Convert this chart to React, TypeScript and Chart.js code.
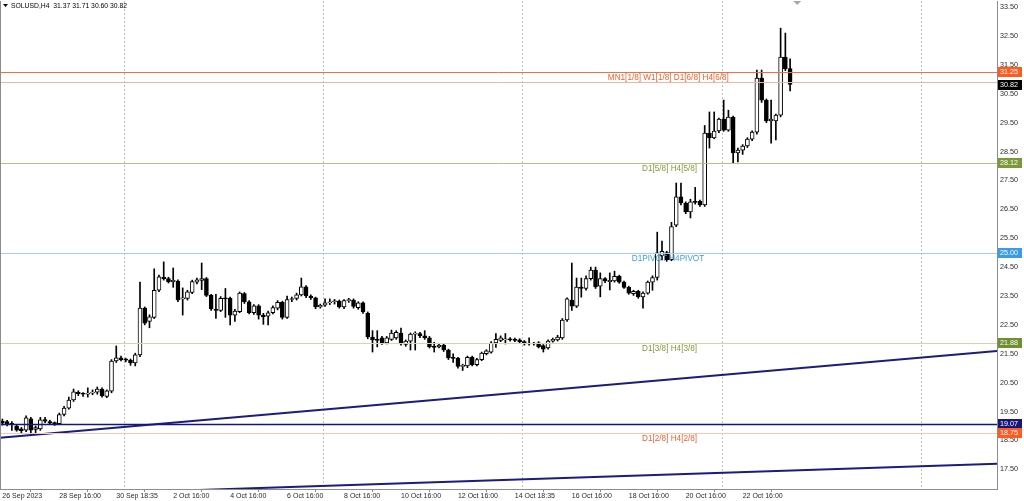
import React, { useEffect, useRef } from 'react';
import { Chart, registerables } from 'chart.js';

Chart.register(...registerables);

// ---------- data ----------
const symbol = 'SOLUSD,H4';

const opens = [
  19.17, 19.15, 19.08, 19.00, 18.90, 18.86, 19.25, 18.88, 18.90, 19.22,
  19.15, 19.10, 19.08, 19.40, 19.62, 19.90, 20.17, 20.12, 20.10, 20.14,
  20.17, 20.28, 20.02, 20.21, 21.25, 21.36, 21.30, 21.28, 21.18, 21.46,
  23.08, 22.62, 22.76, 23.70, 24.15, 24.10, 24.00, 24.02, 23.40, 23.42,
  23.62, 23.98, 24.04, 24.10, 23.52, 23.04, 23.00, 23.42, 23.42, 22.84,
  22.96, 23.58, 23.30, 22.92, 23.16, 22.84, 22.80, 22.92, 23.08, 23.28,
  22.76, 23.38, 23.42, 23.54, 23.82, 23.50, 23.44, 23.12, 23.18, 23.26,
  23.30, 23.32, 23.12, 23.34, 23.36, 23.10, 23.26, 22.90, 22.08, 22.00,
  22.05, 21.88, 22.00, 22.05, 22.22, 21.82, 21.94, 22.18, 22.20, 22.12,
  22.05, 21.75, 21.74, 21.80, 21.63, 21.36, 21.34, 21.06, 21.08, 21.38,
  21.12, 21.30, 21.50, 21.56, 21.88, 21.96, 21.98, 22.00, 22.00, 21.98,
  21.92, 21.84, 21.86, 21.88, 21.78, 21.70, 21.94, 21.98, 22.05, 22.67,
  23.36, 23.15, 23.81, 23.76, 24.10, 24.40, 23.84, 24.10, 24.00, 24.02,
  24.18, 23.98, 23.80, 23.58, 23.66, 23.47, 23.60, 23.98, 24.14, 24.90,
  25.00, 24.76, 25.95, 26.93, 26.72, 26.41, 26.76, 26.78, 26.65, 29.14,
  28.97, 29.21, 29.62, 29.24, 29.69, 28.45, 28.55, 28.69, 28.93, 29.17,
  31.04, 30.28, 29.56, 29.56, 29.76, 31.77, 31.37,
];
const highs = [
  19.24, 19.20, 19.15, 19.05, 18.95, 19.35, 19.30, 19.00, 19.30, 19.30,
  19.20, 19.14, 19.45, 19.68, 20.00, 20.28, 20.22, 20.16, 20.32, 20.25,
  20.35, 20.32, 20.25, 21.30, 21.77, 21.42, 21.35, 21.32, 21.52, 23.98,
  23.12, 22.85, 24.44, 24.22, 24.68, 24.15, 24.47, 24.06, 23.78, 23.70,
  24.05, 24.12, 24.64, 24.14, 23.56, 23.56, 23.48, 23.76, 23.46, 23.04,
  23.64, 23.62, 23.34, 23.20, 23.20, 22.90, 22.98, 23.16, 23.34, 23.32,
  23.50, 23.46, 23.60, 24.12, 23.86, 23.54, 23.46, 23.22, 23.40, 23.40,
  23.38, 23.36, 23.38, 23.42, 23.40, 23.30, 23.30, 22.95, 22.30, 22.30,
  22.10, 22.10, 22.32, 22.30, 22.39, 21.98, 22.22, 22.26, 22.24, 22.30,
  22.10, 21.90, 21.86, 21.84, 21.66, 21.50, 21.38, 21.14, 21.42, 21.42,
  21.34, 21.56, 21.64, 21.92, 22.20, 22.12, 22.20, 22.06, 22.04, 22.02,
  21.96, 22.05, 21.90, 21.92, 21.82, 21.98, 22.04, 22.14, 22.72, 23.44,
  24.64, 24.12, 24.12, 24.20, 24.50, 24.50, 24.30, 24.14, 24.30, 24.36,
  24.22, 24.02, 23.84, 23.70, 23.70, 23.64, 24.02, 24.20, 25.71, 25.40,
  25.05, 26.05, 27.41, 27.41, 26.76, 26.85, 27.26, 26.82, 29.40, 29.87,
  29.87, 29.66, 30.28, 29.93, 29.73, 28.62, 28.74, 28.98, 29.22, 31.32,
  31.32, 30.32, 30.28, 29.80, 32.77, 32.60, 31.71,
];
const lows = [
  19.03, 19.00, 18.85, 18.82, 18.75, 18.80, 18.70, 18.70, 18.85, 19.12,
  19.05, 19.02, 19.05, 19.35, 19.58, 19.85, 20.05, 20.02, 20.00, 20.08,
  20.10, 20.00, 19.98, 20.15, 21.20, 21.25, 21.22, 21.10, 21.08, 21.40,
  22.50, 22.40, 22.72, 23.65, 24.05, 23.95, 23.80, 23.30, 22.84, 23.36,
  23.58, 23.92, 23.72, 23.48, 23.00, 22.72, 22.96, 22.76, 22.50, 22.62,
  22.92, 23.24, 22.88, 22.86, 22.70, 22.52, 22.50, 22.88, 23.02, 22.70,
  22.72, 23.30, 23.36, 23.50, 23.44, 23.38, 23.06, 23.08, 23.14, 23.20,
  23.22, 23.08, 23.06, 23.28, 23.08, 23.04, 22.90, 22.02, 21.56, 21.74,
  21.82, 21.84, 21.96, 22.00, 21.80, 21.76, 21.63, 21.63, 22.06, 22.00,
  21.70, 21.56, 21.70, 21.58, 21.30, 21.20, 21.00, 20.92, 21.02, 21.08,
  21.08, 21.26, 21.46, 21.52, 21.72, 21.92, 21.84, 21.94, 21.92, 21.88,
  21.80, 21.80, 21.80, 21.70, 21.56, 21.66, 21.90, 21.94, 22.00, 22.62,
  23.00, 23.10, 23.46, 23.70, 24.05, 23.76, 23.47, 23.96, 23.71, 23.98,
  23.94, 23.76, 23.56, 23.52, 23.42, 23.08, 23.56, 23.70, 24.05, 24.75,
  24.70, 24.72, 25.90, 26.65, 26.35, 26.20, 26.68, 26.60, 26.60, 28.62,
  28.94, 29.15, 29.20, 29.20, 28.10, 28.14, 28.40, 28.64, 28.88, 29.10,
  30.20, 29.50, 28.79, 28.90, 29.70, 31.30, 30.60,
];
const closes = [
  19.10, 19.08, 19.06, 18.86, 18.84, 19.28, 18.86, 18.95, 19.21, 19.17,
  19.10, 19.08, 19.40, 19.62, 19.90, 20.18, 20.12, 20.10, 20.14, 20.17,
  20.28, 20.04, 20.22, 21.25, 21.36, 21.30, 21.28, 21.18, 21.46, 23.08,
  22.56, 22.78, 23.70, 24.16, 24.10, 24.00, 24.04, 23.36, 23.44, 23.64,
  24.00, 24.06, 24.10, 23.52, 23.05, 23.00, 23.42, 23.40, 22.84, 22.98,
  23.60, 23.30, 22.92, 23.16, 22.84, 22.78, 22.92, 23.10, 23.28, 22.76,
  23.38, 23.40, 23.54, 23.82, 23.50, 23.44, 23.12, 23.18, 23.26, 23.30,
  23.30, 23.12, 23.34, 23.36, 23.14, 23.26, 22.95, 22.08, 21.98, 21.96,
  21.88, 22.05, 22.22, 22.24, 21.84, 21.94, 22.18, 22.20, 22.12, 22.05,
  21.74, 21.72, 21.80, 21.63, 21.36, 21.34, 21.06, 21.10, 21.38, 21.12,
  21.30, 21.52, 21.60, 21.87, 22.00, 22.05, 22.00, 21.98, 21.96, 21.92,
  21.84, 21.86, 21.84, 21.74, 21.66, 21.94, 22.00, 22.08, 22.67, 23.40,
  23.15, 23.81, 23.76, 24.10, 24.40, 23.81, 24.10, 24.02, 24.04, 24.18,
  23.98, 23.80, 23.60, 23.66, 23.47, 23.60, 23.98, 24.14, 24.99, 25.05,
  24.76, 25.90, 26.93, 26.72, 26.41, 26.76, 26.74, 26.65, 29.14, 28.97,
  29.21, 29.62, 29.24, 29.69, 28.45, 28.55, 28.69, 28.93, 29.17, 31.04,
  30.28, 29.56, 29.62, 29.76, 31.77, 31.37, 30.82,
];

// time axis labels and the bars they sit on
const xLabelBars = [0, 12, 24, 36, 48, 60, 72, 84, 96, 108, 120, 132, 144, 156];
const xLabels = [
  '26 Sep 2023', '28 Sep 16:00', '30 Sep 18:35', '2 Oct 16:00', '4 Oct 16:00',
  '6 Oct 16:00', '8 Oct 16:00', '10 Oct 16:00', '12 Oct 16:00', '14 Oct 18:35',
  '16 Oct 16:00', '18 Oct 16:00', '20 Oct 16:00', '22 Oct 16:00',
];
// weekly separators (in bar units)
const separatorBars = [25.6, 67.6, 109.6, 151.6, 193.6];
// visible bar range incl. right shift
const xRange = [-0.5, 209.6];
// price axis
const yRange = [16.82, 33.71];
const yTicks = [17.5, 18.5, 19.5, 20.5, 21.5, 22.5, 23.5, 24.5, 25.5, 26.5, 27.5, 28.5, 29.5, 30.5, 31.5, 32.5, 33.5];

// horizontal levels
const levelValues = [31.25, 30.92, 28.12, 25.0, 21.88, 19.07, 18.75];
const levelTexts = ['MN1[1/8] W1[1/8] D1[6/8] H4[6/8]', '', 'D1[5/8] H4[5/8]', 'D1PIVOT H4PIVOT', 'D1[3/8] H4[3/8]', '', 'D1[2/8] H4[2/8]'];
const levelHasBox = [true, false, true, true, true, true, true];
const levelTextAnchorBars = [153.1, 0, 146.4, 147.9, 146.4, 0, 146.4];

// trend lines (bar, price)
const trendA = [{ x: -0.5, y: 18.59 }, { x: 209.6, y: 21.6 }];
const trendB = [{ x: -0.5, y: 16.56 }, { x: 209.6, y: 17.69 }];

const shiftMarkerBar = 167.5;

// ---------- styles ----------
const FONT = "'Liberation Sans', Arial, sans-serif";
const levelStyles = [
  { line: '#FF6A3D', width: 1, text: '#F0602E', box: '#FF5A1F' },
  { line: '#F2B6A0', width: 1, text: '', box: '' },
  { line: '#B8C08A', width: 1, text: '#7F9C3C', box: '#7A9A3A' },
  { line: '#A4D0F0', width: 1, text: '#3F9CDB', box: '#3A9CE8' },
  { line: '#D4D6A6', width: 1, text: '#7F9C3C', box: '#6F8F32' },
  { line: '#15157A', width: 1.6, text: '', box: '#15157A' },
  { line: '#F4C8B0', width: 1, text: '#F0602E', box: '#FF5A1F' },
];

const overlayPlugin = {
  id: 'mtOverlay',
  beforeDatasetsDraw(chart: any) {
    const { ctx, chartArea: a, scales } = chart;
    const xs = scales.x;
    ctx.save();
    ctx.strokeStyle = '#BEBEBE';
    ctx.lineWidth = 1;
    ctx.setLineDash([2, 2]);
    separatorBars.forEach((b) => {
      const px = Math.round(xs.getPixelForValue(b)) + 0.5;
      ctx.beginPath();
      ctx.moveTo(px, a.top);
      ctx.lineTo(px, a.bottom);
      ctx.stroke();
    });
    ctx.restore();
  },
  afterDatasetsDraw(chart: any) {
    const { ctx, chartArea: a, scales } = chart;
    const xs = scales.x;
    const ys = scales.y;
    ctx.save();
    ctx.beginPath();
    ctx.rect(a.left, a.top, a.right - a.left, a.bottom - a.top);
    ctx.clip();
    levelValues.forEach((v, i) => {
      const st = levelStyles[i];
      const py = Math.round(ys.getPixelForValue(v)) + 0.5;
      ctx.strokeStyle = st.line;
      ctx.lineWidth = st.width;
      ctx.beginPath();
      ctx.moveTo(a.left, py);
      ctx.lineTo(a.right, py);
      ctx.stroke();
      if (levelTexts[i]) {
        ctx.font = `8.2px ${FONT}`;
        ctx.fillStyle = st.text;
        ctx.textAlign = 'right';
        ctx.textBaseline = 'top';
        ctx.fillText(levelTexts[i], xs.getPixelForValue(levelTextAnchorBars[i]), py + 1.5);
      }
    });
    ctx.restore();
  },
  afterDraw(chart: any) {
    const { ctx, chartArea: a, scales } = chart;
    const ys = scales.y;
    const xs = scales.x;
    ctx.save();
    // left frame
    ctx.strokeStyle = '#8C8C8C';
    ctx.lineWidth = 1;
    ctx.beginPath();
    ctx.moveTo(a.left + 0.5, a.top);
    ctx.lineTo(a.left + 0.5, a.bottom);
    ctx.stroke();

    const drawBox = (v: number, bg: string) => {
      const py = ys.getPixelForValue(v);
      ctx.fillStyle = bg;
      ctx.fillRect(a.right + 1, Math.round(py) - 5, 24, 10);
      ctx.fillStyle = '#FFFFFF';
      ctx.font = `7.2px ${FONT}`;
      ctx.textAlign = 'left';
      ctx.textBaseline = 'middle';
      ctx.fillText(v.toFixed(2), a.right + 3, Math.round(py) + 0.5);
    };
    levelValues.forEach((v, i) => {
      if (levelHasBox[i]) drawBox(v, levelStyles[i].box);
    });
    drawBox(closes[closes.length - 1], '#000000');

    // header
    const n = closes.length - 1;
    ctx.fillStyle = '#000';
    ctx.beginPath();
    ctx.moveTo(3, 4);
    ctx.lineTo(8, 4);
    ctx.lineTo(5.5, 7);
    ctx.closePath();
    ctx.fill();
    ctx.font = `6.8px ${FONT}`;
    ctx.textAlign = 'left';
    ctx.textBaseline = 'middle';
    ctx.fillText(
      `${symbol}  ${opens[n].toFixed(2)} ${highs[n].toFixed(2)} ${lows[n].toFixed(2)} ${closes[n].toFixed(2)}`,
      11,
      6
    );

    // shift marker
    const sx = xs.getPixelForValue(shiftMarkerBar);
    ctx.fillStyle = '#A8A8A8';
    ctx.beginPath();
    ctx.moveTo(sx - 4, a.top);
    ctx.lineTo(sx + 4, a.top);
    ctx.lineTo(sx, a.top + 4);
    ctx.closePath();
    ctx.fill();
    ctx.restore();
  },
};

export default function App() {
  const ref = useRef<HTMLCanvasElement | null>(null);

  useEffect(() => {
    if (!ref.current) return;
    const bodies = opens.map((o, i) => ({ x: i, y: [o, closes[i]] }));
    const wicks = lows.map((l, i) => ({ x: i, y: [l, highs[i]] }));
    const bodyColors = opens.map((o, i) => (closes[i] >= o ? '#FFFFFF' : '#000000'));

    const chart = new Chart(ref.current, {
      type: 'bar',
      data: {
        datasets: [
          {
            type: 'line',
            data: trendA,
            borderColor: '#1B1B80',
            borderWidth: 2,
            pointRadius: 0,
            order: 0,
          } as any,
          {
            type: 'line',
            data: trendB,
            borderColor: '#1B1B80',
            borderWidth: 2,
            pointRadius: 0,
            order: 0,
          } as any,
          {
            type: 'bar',
            data: bodies,
            backgroundColor: bodyColors,
            borderColor: '#000000',
            borderWidth: 1,
            borderSkipped: false,
            barThickness: 4,
            minBarLength: 1,
            grouped: false,
            order: 1,
          } as any,
          {
            type: 'bar',
            data: wicks,
            backgroundColor: '#000000',
            borderWidth: 0,
            barThickness: 1,
            grouped: false,
            order: 2,
          } as any,
        ],
      },
      options: {
        animation: false,
        responsive: false,
        maintainAspectRatio: false,
        events: [],
        layout: { padding: { top: 1, left: 0, right: 0, bottom: 0 } },
        plugins: { legend: { display: false }, tooltip: { enabled: false } },
        scales: {
          x: {
            type: 'linear',
            position: 'bottom',
            min: xRange[0],
            max: xRange[1],
            offset: false,
            afterBuildTicks: (s: any) => {
              s.ticks = xLabelBars.map((v) => ({ value: v }));
            },
            afterFit: (s: any) => {
              s.height = 12;
              s.paddingLeft = 0;
              s.paddingRight = 0;
            },
            ticks: {
              autoSkip: false,
              maxRotation: 0,
              minRotation: 0,
              align: 'start',
              padding: 0,
              color: '#2A2A2A',
              font: { size: 7, family: FONT },
              callback: (v: any) => {
                const k = xLabelBars.indexOf(Number(v));
                return k >= 0 ? xLabels[k] : '';
              },
            },
            grid: { drawOnChartArea: false, drawTicks: true, tickLength: 3, color: '#8C8C8C' },
            border: { display: true, color: '#8C8C8C' },
          },
          y: {
            type: 'linear',
            position: 'right',
            min: yRange[0],
            max: yRange[1],
            afterBuildTicks: (s: any) => {
              s.ticks = yTicks.map((v) => ({ value: v }));
            },
            afterFit: (s: any) => {
              s.width = 27;
              s.paddingTop = 0;
              s.paddingBottom = 0;
            },
            ticks: {
              autoSkip: false,
              padding: 3,
              color: '#2A2A2A',
              font: { size: 7.2, family: FONT },
              callback: (v: any) => Number(v).toFixed(2),
            },
            grid: { display: false, drawTicks: false, tickLength: 0 },
            border: { display: true, color: '#8C8C8C' },
          },
        },
      } as any,
      plugins: [overlayPlugin],
    });
    return () => chart.destroy();
  }, []);

  return (
    <div style={{ position: 'fixed', left: 0, top: 0, width: 1024, height: 501, background: '#fff' }}>
      <canvas ref={ref} width={1024} height={501} style={{ display: 'block' }} />
    </div>
  );
}
